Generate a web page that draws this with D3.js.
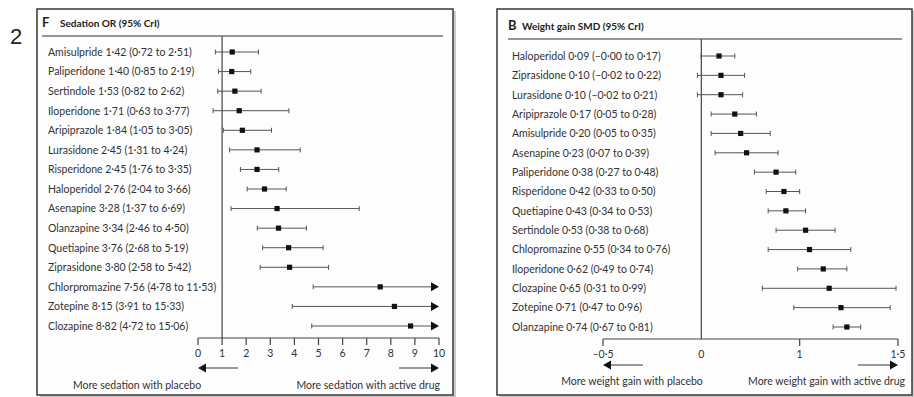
<!DOCTYPE html>
<html><head><meta charset="utf-8">
<script src="https://cdn.jsdelivr.net/npm/d3@7"></script>
<style>
html,body{margin:0;padding:0;background:#fff;}
text{font-family:Lato,"Open Sans",sans-serif;fill:#333;}
</style></head>
<body><svg id="c" width="914" height="397"></svg>
<script>
// ---- Data: panel F, Sedation OR (95% CrI)
const sedDrugs = ["Amisulpride","Paliperidone","Sertindole","Iloperidone","Aripiprazole","Lurasidone","Risperidone","Haloperidol","Asenapine","Olanzapine","Quetiapine","Ziprasidone","Chlorpromazine","Zotepine","Clozapine"];
const sedEst = [1.42,1.40,1.53,1.71,1.84,2.45,2.45,2.76,3.28,3.34,3.76,3.80,7.56,8.15,8.82];
const sedLo  = [0.72,0.85,0.82,0.63,1.05,1.31,1.76,2.04,1.37,2.46,2.68,2.58,4.78,3.91,4.72];
const sedHi  = [2.51,2.19,2.62,3.77,3.05,4.24,3.35,3.66,6.69,4.50,5.19,5.42,11.53,15.33,15.06];
const sedTicks = [0,1,2,3,4,5,6,7,8,9,10];
const sedTickLabels = ["0","1","2","3","4","5","6","7","8","9","10"];

// ---- Data: panel B, Weight gain SMD (95% CrI)
const wgDrugs = ["Haloperidol","Ziprasidone","Lurasidone","Aripiprazole","Amisulpride","Asenapine","Paliperidone","Risperidone","Quetiapine","Sertindole","Chlopromazine","Iloperidone","Clozapine","Zotepine","Olanzapine"];
const wgEst = [0.09,0.10,0.10,0.17,0.20,0.23,0.38,0.42,0.43,0.53,0.55,0.62,0.65,0.71,0.74];
const wgLo  = [-0.001,-0.02,-0.02,0.05,0.05,0.07,0.27,0.33,0.34,0.38,0.34,0.49,0.31,0.47,0.67];
const wgHi  = [0.17,0.22,0.21,0.28,0.35,0.39,0.48,0.50,0.53,0.68,0.76,0.74,0.99,0.96,0.81];
const wgTicks = [-0.5,0.5,1.0];
const wgTickLabels = ["–0·5","1","1·5"];
const wgZeroLabel = "0";

const svg = d3.select("#c");
const f2 = d3.format(".2f");
const fmt = v => (v < 0 ? "–" : "") + f2(Math.abs(v)).replace(".", "·");

svg.append("text").attr("x",10).attr("y",44).text("2")
  .style("font-family","'Liberation Sans',Arial,sans-serif").style("font-size","22px").style("fill","#222");

function panel(o){
  const g = svg.append("g");
  // frame with shadow
  g.append("rect").attr("x",o.x0+3).attr("y",o.y0+2).attr("width",o.x1-o.x0).attr("height",o.y1-o.y0)
    .attr("fill","#ccc");
  g.append("rect").attr("x",o.x0).attr("y",o.y0).attr("width",o.x1-o.x0).attr("height",o.y1-o.y0)
    .attr("fill","#fdfdfd").attr("stroke","#444").attr("stroke-width",1.6);
  // header
  g.append("text").attr("x",o.hx).attr("y",o.hy).text(o.letter)
    .style("font-weight","bold").style("font-size","13px").style("fill","#222");
  g.append("text").attr("x",o.hx+o.titleDx).attr("y",o.hy).text(o.title)
    .style("font-weight","bold").style("font-size","10px").style("fill","#222");
  g.append("line").attr("x1",o.hx).attr("x2",o.x1-10).attr("y1",o.hline).attr("y2",o.hline)
    .attr("stroke","#333").attr("stroke-width",1.2);

  const x = d3.scaleLinear().domain(o.domain).range(o.range);
  const y = d3.scalePoint().domain(o.drugs).range(o.yr);
  const rows = o.drugs.map((d,i)=>({d, e:o.est[i], lo:o.lo[i], hi:o.hi[i]}));

  // reference line
  g.append("line").attr("x1",x(o.ref)).attr("x2",x(o.ref)).attr("y1",o.hline).attr("y2",o.axisY)
    .attr("stroke","#444").attr("stroke-width",1.2);

  const dmax = o.domain[1];
  const r = g.selectAll(".row").data(rows).enter().append("g");
  r.append("text").attr("x",o.lx).attr("y",d=>y(d.d)+3.8)
    .text(d=>`${d.d} ${fmt(d.e)} (${fmt(d.lo)} to ${fmt(d.hi)})`)
    .style("font-size","10.5px");
  r.append("line").attr("x1",d=>x(d.lo)).attr("x2",d=>x(Math.min(d.hi,dmax)) - (d.hi>dmax?6:0))
    .attr("y1",d=>y(d.d)).attr("y2",d=>y(d.d)).attr("stroke","#555").attr("stroke-width",1);
  r.append("line").attr("x1",d=>x(d.lo)).attr("x2",d=>x(d.lo))
    .attr("y1",d=>y(d.d)-2.5).attr("y2",d=>y(d.d)+2.5).attr("stroke","#555").attr("stroke-width",1);
  r.filter(d=>d.hi<=dmax).append("line").attr("x1",d=>x(d.hi)).attr("x2",d=>x(d.hi))
    .attr("y1",d=>y(d.d)-2.5).attr("y2",d=>y(d.d)+2.5).attr("stroke","#555").attr("stroke-width",1);
  r.filter(d=>d.hi>dmax).append("path")
    .attr("d",d=>{const xe=x(dmax), yy=y(d.d); return `M${xe},${yy} L${xe-8},${yy-4.5} L${xe-8},${yy+4.5} Z`;})
    .attr("fill","#111");
  r.append("rect").attr("x",d=>x(d.e)-2.6).attr("y",d=>y(d.d)-2.6).attr("width",5.2).attr("height",5.2)
    .attr("fill","#111");

  // axis
  g.append("line").attr("x1",x(o.domain[0])).attr("x2",x(dmax)).attr("y1",o.axisY).attr("y2",o.axisY)
    .attr("stroke","#444").attr("stroke-width",1.2);
  const t = g.selectAll(".tk").data(o.ticks.map((v,i)=>({v,l:o.tickLabels[i]}))).enter();
  t.append("line").attr("x1",d=>x(d.v)).attr("x2",d=>x(d.v)).attr("y1",o.axisY).attr("y2",o.axisY+7)
    .attr("stroke","#444").attr("stroke-width",1.2);
  t.append("text").attr("x",d=>x(d.v)).attr("y",o.axisY+19).attr("text-anchor","middle")
    .text(d=>d.l).style("font-size","10.5px");
  if (o.zeroLabel) g.append("text").attr("x",x(o.ref)).attr("y",o.axisY+19).attr("text-anchor","middle")
    .text(o.zeroLabel).style("font-size","10.5px");

  // direction arrows
  const ay = o.arrowY, xl = x(o.domain[0]), xr = x(dmax);
  g.append("line").attr("x1",xl+6).attr("x2",xl+o.arrowLen).attr("y1",ay).attr("y2",ay).attr("stroke","#999").attr("stroke-width",2);
  g.append("path").attr("d",`M${xl},${ay} L${xl+8},${ay-4.5} L${xl+8},${ay+4.5} Z`).attr("fill","#111");
  g.append("line").attr("x1",xr-o.arrowLen).attr("x2",xr-6).attr("y1",ay).attr("y2",ay).attr("stroke","#999").attr("stroke-width",2);
  g.append("path").attr("d",`M${xr},${ay} L${xr-8},${ay-4.5} L${xr-8},${ay+4.5} Z`).attr("fill","#111");
  g.append("text").attr("x",o.dlx).attr("y",o.dy).attr("text-anchor","middle").text(o.dl).style("font-size","10.5px");
  g.append("text").attr("x",o.drx).attr("y",o.dy).attr("text-anchor","end").text(o.dr).style("font-size","10.5px");
}

panel({x0:37,y0:9,x1:453,y1:395, hx:42, hy:27, titleDx:18, hline:36, letter:"F", title:"Sedation OR (95% CrI)",
  drugs:sedDrugs, est:sedEst, lo:sedLo, hi:sedHi, domain:[0,10], range:[198,439], yr:[52,326], ref:1,
  lx:48, axisY:338, ticks:sedTicks, tickLabels:sedTickLabels, arrowY:368, arrowLen:40,
  dlx:137, drx:440, dy:389, dl:"More sedation with placebo", dr:"More sedation with active drug"});

panel({x0:497,y0:9,x1:912,y1:395, hx:508, hy:30, titleDx:14, hline:39, letter:"B", title:"Weight gain SMD (95% CrI)",
  drugs:wgDrugs, est:wgEst, lo:wgLo, hi:wgHi, domain:[-0.5,1.0], range:[603,898], yr:[56,327], ref:0,
  lx:512, axisY:339, ticks:wgTicks, tickLabels:wgTickLabels, zeroLabel:wgZeroLabel, arrowY:365, arrowLen:40,
  dlx:632, drx:905, dy:385, dl:"More weight gain with placebo", dr:"More weight gain with active drug"});
</script></body></html>
